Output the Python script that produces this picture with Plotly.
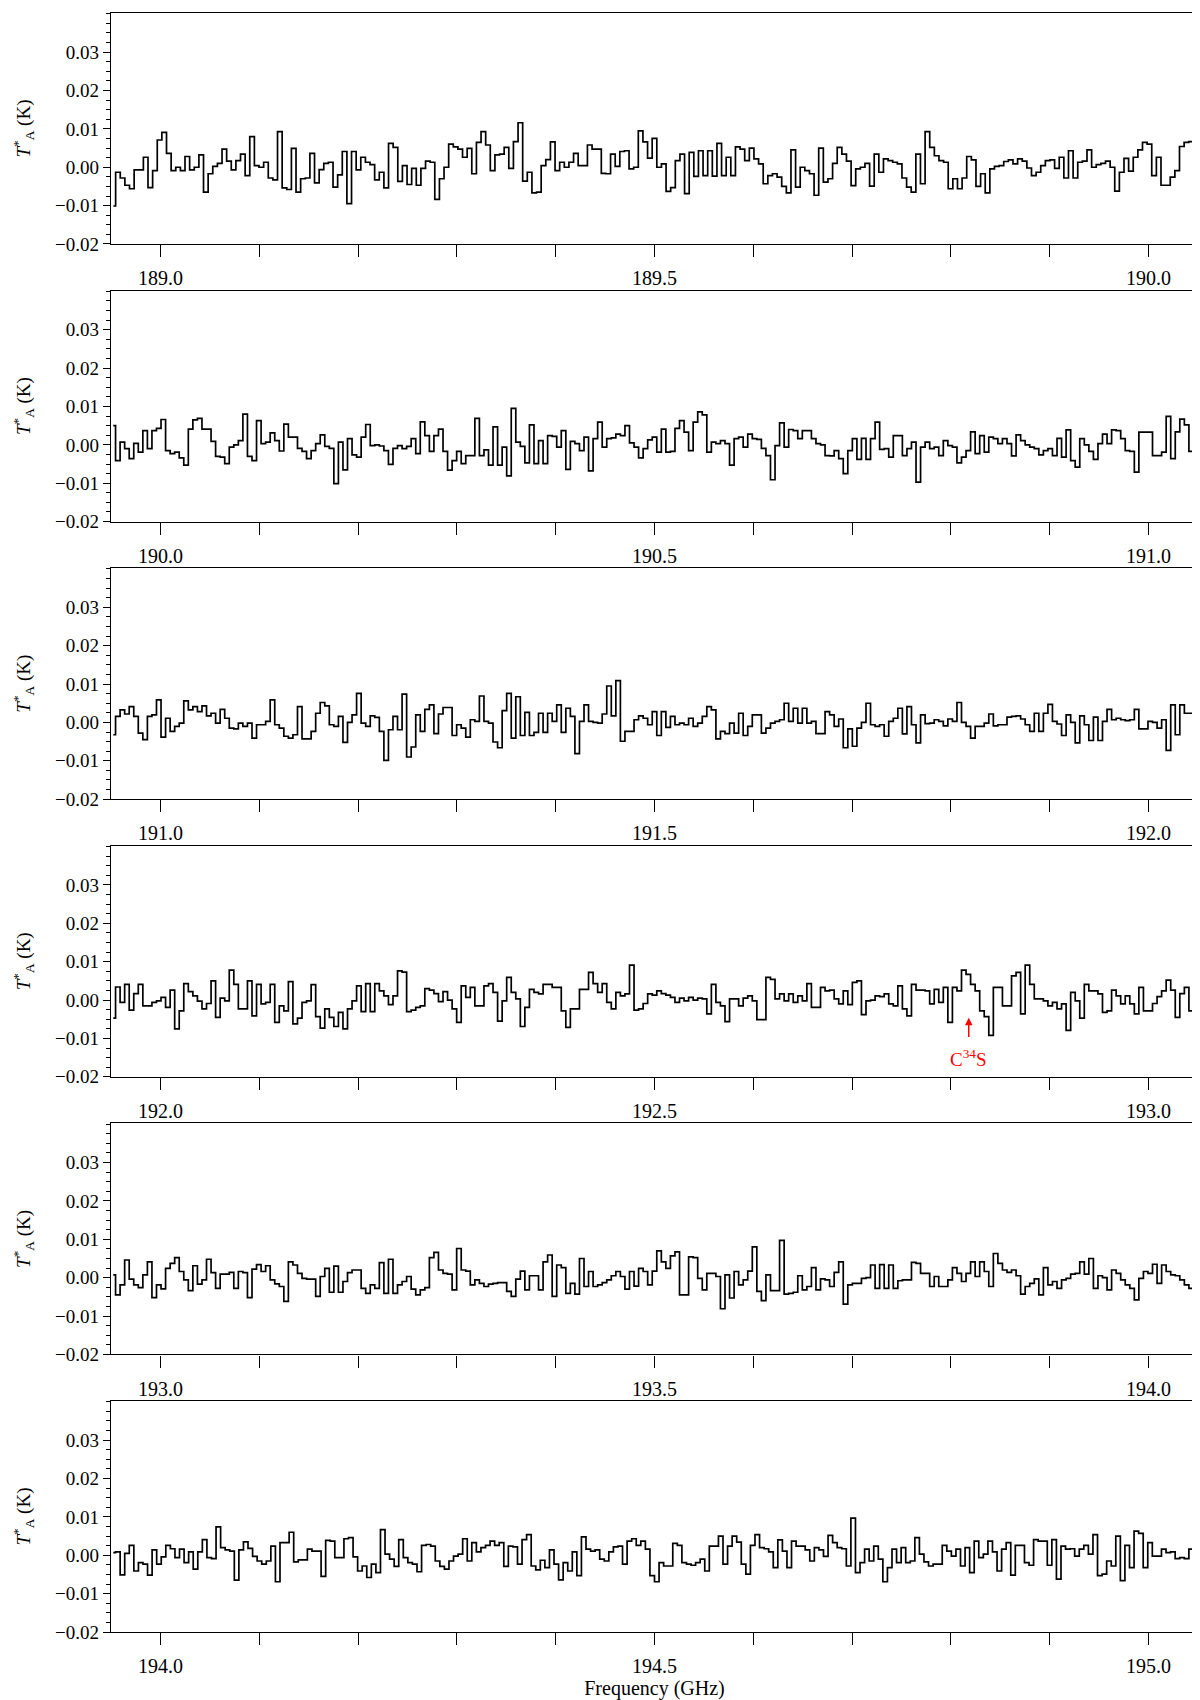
import numpy as np
import plotly.graph_objects as go
from plotly.subplots import make_subplots

# Antenna temperature per channel, in mK (left to right)
ta_p1 = [-10.1, -1.3, -2.8, -4.7, -5.6, -0.7, -0.7, 2.6, -5.3, -0.9, 7.1, 9.1, 3.6, -0.9, 0.0, -0.9, 2.8, -0.7, 0.0, 3.2,
         -6.5, -1.7, 0.2, 1.0, 4.7, 1.6, -0.7, 1.7, 3.4, -2.2, 8.0, 0.4, 0.0, 1.3, -2.8, -3.3, 9.3, -5.4, -5.8, 4.9,
         -6.5, -3.0, -2.8, 3.6, -4.1, -0.6, 1.0, 1.3, -5.2, -2.0, 4.1, -9.5, 4.1, -0.7, 2.6, 1.3, 0.7, -3.3, -1.3, -5.4,
         6.2, 5.2, -3.7, 0.4, -4.5, -0.3, -4.7, -0.3, 1.6, 1.3, -8.4, -3.0, 0.0, 6.0, 5.3, 4.7, 2.6, 4.9, -1.7, 6.5,
         9.3, 5.8, -0.9, 3.2, 3.4, 5.2, -0.3, 6.7, 11.6, -3.6, -1.3, -6.7, -6.5, 0.4, 2.0, 6.6, -0.9, 1.3, 0.0, 1.3,
         3.6, 0.4, 0.4, 5.8, 4.7, 4.7, -1.6, -1.7, 3.4, 0.2, 4.1, 4.3, -0.4, 0.0, 9.5, 6.6, 2.4,
         7.5, 0.0, 0.9, -6.3, -5.3, 1.7, 3.4, -6.9, 3.9, -2.4, 4.3, -2.2, 4.3, -2.3, 6.2, -2.2, 2.6, -2.2, 5.3, 4.7,
         1.7, 5.0, 2.2, 0.9, -4.3, -2.2, -1.7, -2.6, -5.0, -6.7, 4.5, -5.2, 0.0, -0.9, -1.7, -7.3, 5.0, -3.9, -3.0, 1.0,
         5.2, 3.4, 1.6, -4.8, -0.4, 0.0, 1.0, -4.9, 3.4, -1.3, 2.2, 1.7, 1.3, 0.9, -2.8, -5.2, -6.5, 3.4, -4.3, 9.3,
         5.2, 3.0, 1.7, 1.3, -5.6, -3.0, -5.6, -2.8, 2.8, 1.9, -5.0, -1.7, -6.7, -0.4, 0.2, 0.4, 1.5, 1.9, 0.9, 2.2,
         1.6, -0.2, -2.2, -1.3, 0.4, 1.7, 1.9, -0.3, 2.6, -2.8, 4.3, -2.8, 1.3, 1.6, 4.5, 0.0, 0.7, 1.0, 1.6, 0.0,
         -6.2, -1.3, 2.3, -1.0, 2.6, 4.5, 6.5, 6.0, -2.2, 2.6, -4.7, -4.7, -2.6, -0.9, 5.4, 6.5, 6.7, 6.9]

ta_p2 = [5.0, -4.1, 0.7, -1.0, -3.6, 0.4, -1.9, 3.7, -1.0, 3.7, 4.3, 6.6, -1.5, -2.3, -1.9, -3.4, -5.3, 4.1, 6.5, 6.9,
         4.1, 4.1, 0.9, -3.0, -3.2, -4.9, -0.6, 0.0, 1.1, 8.0, -3.0, -4.1, 6.3, 0.3, 0.7, 3.1, 1.1, -1.6, 5.4, 2.0,
         2.0, -0.9, -1.7, -3.6, -1.5, 0.3, 2.6, -0.4, -0.9, -10.1, 0.7, -6.5, 1.6, -2.6, -3.2, 2.0, 5.3, -0.2, 0.0, -0.3,
         -1.5, -5.1, -0.9, -0.2, -1.0, -0.4, 1.6, -2.3, 6.0, 2.4, -1.7, 2.4, 4.1, -1.7, -6.6, -4.1, -1.7, -4.9, -2.8, -2.8,
         6.9, -2.8, -1.3, -5.3, 4.7, -5.3, -0.6, -8.1, 9.5, 0.7, -0.4, -4.7, 5.2, -4.9, 1.1, -4.9, 2.4, 2.2, -0.6, 3.7,
         -6.4, 0.9, 0.3, -1.5, 2.0, -6.8, 1.6, 5.9, -0.6, 1.6, 1.8, 2.8, 2.4, 5.0, 0.5, -0.6, -3.4, -1.0, 1.3,
         2.0, -1.9, 4.1, -1.9, -1.7, 4.3, 6.3, 3.3, -1.5, 5.9, 8.6, 7.8, -1.9, 0.7, 0.3, 1.1, 0.3, -5.3, 1.6, 2.0,
         -0.6, 2.8, 1.6, 1.4, -0.9, -2.8, -9.1, -0.2, 5.7, -0.6, 4.0, 3.7, 1.6, 3.7, 3.7, 1.6, 0.3, 0.0, -2.8, -2.9,
         -1.5, -3.6, -7.5, -1.5, 1.6, -3.8, 1.7, -3.8, 1.6, 5.9, -1.2, -1.0, -3.2, 2.4, 2.4, -2.8, -1.0, 0.7, -9.7, -0.6,
         0.7, -1.0, -0.6, -2.8, 1.1, -0.2, -0.6, -4.7, -3.2, -1.5, 3.4, -2.3, 2.4, -1.9, 2.0, 1.6, 0.3, 1.6, 0.3, -2.9,
         2.6, 1.1, 0.0, -0.6, -1.0, -2.6, -1.5, -1.0, -2.8, 1.7, -3.2, 3.9, -4.1, -5.8, 1.6, 0.0, -1.7, -3.8, 0.3, 2.8,
         0.3, 3.9, 3.7, 1.6, -1.5, -1.7, -7.1, 3.3, 3.3, 3.3, -2.8, -2.8, -1.9, 7.4, -3.6, 3.4, 6.7, 5.2, -1.7, -1.7]

ta_p3 = [-3.2, 1.6, 3.3, 2.2, 4.1, 1.6, -2.8, -4.5, 1.6, 2.0, 5.9, -3.8, 1.1, -2.3, -1.0, -0.2, 5.6, 3.3, 4.1, 2.8,
         4.3, 1.7, 2.4, -0.2, 3.4, 1.1, -1.5, -1.7, -0.2, -1.0, -0.2, -4.1, -0.6, -0.6, 0.3, 5.9, -0.6, -1.5, -3.6, -4.1,
         -3.2, 4.1, -4.3, -4.3, -2.3, 2.4, 5.2, 4.3, -0.6, -1.0, 1.6, -5.2, 0.0, 2.0, 7.6, -0.2, -1.0, 1.7, 1.3, -2.3,
         -9.9, -1.9, 1.6, -1.9, 7.4, -9.0, -6.4, 2.0, -2.3, 3.4, 4.6, -2.9, 2.2, 3.9, 3.9, -3.4, -0.6, -1.5, -3.8, 0.7,
         0.3, 6.9, 0.3, -0.2, -5.1, -6.6, 3.1, 7.6, -4.1, 6.7, -3.4, 2.6, -3.4, -2.6, 2.4, -2.6, 2.4, 0.3, 4.6, -2.6,
         3.7, 1.6, -8.1, 0.3, 4.6, 0.3, 0.0, -0.2, 2.2, 9.5, 1.7, 10.9, -4.9, -2.3, -2.3, 0.7, 1.7, 1.1, -0.6,
         2.8, -3.4, 2.8, -1.3, 1.6, -0.6, -0.2, -0.6, 1.1, -1.0, -0.2, 1.6, 4.1, 3.3, -4.3, -2.3, -2.9, -0.2, -2.8, 2.4,
         -3.4, -1.0, 2.0, 2.0, -2.8, -1.5, -0.2, 0.3, 0.7, 5.0, 0.3, 3.7, -0.2, 3.7, -0.2, 0.3, -2.9, -2.9, 2.8, 2.0,
         -1.0, 0.9, -6.6, -1.7, -6.2, -1.5, 0.0, 5.0, -0.6, -1.0, -0.6, -3.6, 0.3, 1.1, 3.7, -3.0, 4.1, -0.6, -5.3, 2.0,
         -0.3, -0.2, 0.7, 0.3, -0.9, 0.9, 0.3, 5.2, 0.0, -1.0, -4.1, -1.0, -1.0, -0.2, 2.2, -0.9, -0.6, -0.6, 1.4, 1.6,
         1.7, 0.9, -0.6, -2.3, 2.4, -2.3, 2.4, 4.7, 0.3, -0.4, -3.4, 2.0, 0.0, -5.3, 1.7, -0.6, -4.7, 1.4, -4.7, 0.3,
         3.4, 0.7, 1.1, 0.7, 0.5, 0.7, 3.4, -1.7, -1.7, 0.3, 0.0, -1.5, 0.7, -7.3, 4.6, -3.2, 4.6, 2.4, 2.4, -1.2]

ta_p4 = [-4.7, 3.4, -0.6, 4.1, -2.6, 1.7, 4.1, -1.5, -1.5, -0.6, -0.2, 0.7, -1.9, 2.6, -7.5, -2.8, 4.3, 2.2, 1.1, -0.3,
         -2.3, -0.9, 5.0, -4.5, 0.5, -0.2, 7.8, 4.1, -2.3, -2.3, 5.0, -4.1, 4.1, -1.0, -0.6, 4.1, -5.8, -1.5, -2.8, 4.8,
         -6.2, -4.7, -0.6, -0.2, 4.0, -4.3, -7.3, -2.3, -4.5, -6.9, -3.2, -7.5, -2.3, -0.2, 3.7, -3.0, 4.3, -3.0, 4.3, 2.4,
         1.1, -1.2, 1.1, 7.6, 7.3, -3.0, -2.6, -1.9, -1.5, 3.0, 2.6, 1.7, -0.4, 2.2, 0.0, -2.3, -5.8, 3.7, 0.7, 3.3,
         -1.5, -1.5, 3.7, 4.3, 2.0, -5.5, -0.2, 5.9, 2.0, 0.3, -6.9, -1.9, 2.8, 2.0, 1.6, 4.1, 4.1, 3.3, 3.3, -2.8,
         -7.1, -2.3, -2.3, 2.8, 2.8, 7.2, 4.3, 2.0, 4.3, -0.6, -2.3, 2.0, 1.1, 1.6, 9.1, -2.6, -2.3, -0.9, 1.6,
         1.3, 2.4, 1.7, 1.3, 0.7, -0.6, 0.5, -0.2, 0.7, 0.0, 0.5, 0.3, -3.6, 4.1, -0.6, -1.5, -5.6, 0.3, 0.3, -1.5,
         0.5, 1.1, -0.2, -5.1, -5.1, 5.9, 5.4, 0.3, 1.6, -0.2, 1.6, -0.6, 1.1, -0.2, 4.3, -1.9, -1.9, 3.3, 2.4, 2.6,
         0.3, -1.0, 2.4, -1.2, 4.6, 5.0, -3.8, -0.2, 0.0, 1.1, 0.9, 1.6, -1.0, -1.5, 3.7, -2.3, -4.1, 4.1, 2.6, 2.6,
         2.4, -1.0, 2.8, -0.6, 3.3, -5.8, 3.3, 2.4, 7.8, 6.7, 4.1, 2.4, -2.8, -4.3, -9.2, 3.3, 3.3, -1.5, -1.5, 6.3,
         7.2, -3.6, 9.1, 4.1, 0.3, 0.3, -0.2, -1.5, -0.6, -2.3, -1.0, -7.9, 2.0, -0.2, -4.7, 4.1, 2.4, 2.4, 1.6, -3.2,
         -2.8, 2.6, 1.1, -1.0, 1.1, -1.0, -3.6, 3.3, -2.8, -2.8, -0.9, 0.9, 2.4, 5.2, 2.6, -4.5, 1.7, 3.3, -2.8, 0.5]

ta_p5 = [0.7, -4.5, -1.9, 4.6, -0.4, -1.9, -2.6, 0.7, 4.1, -5.2, -1.9, -2.9, 2.4, 3.7, 5.2, 1.6, -0.6, -3.4, 3.1, -1.7,
         -0.6, 4.8, 1.3, -2.8, 0.9, 0.9, 1.4, -2.8, 1.6, 1.3, -5.2, 2.2, 3.4, 1.6, 3.1, -0.6, -1.6, -2.3, -6.2, 4.1,
         3.3, 1.1, -0.2, -0.4, -0.4, -4.9, 0.3, 2.4, -3.8, 3.0, -3.8, -1.0, 1.3, 2.0, 2.0, -2.8, -4.1, -1.9, -2.8, 3.9,
         -4.1, 4.8, -4.1, -1.9, -1.0, 0.3, -3.0, -4.5, -3.2, -2.6, 5.2, 6.6, 2.0, 1.1, 0.9, -3.2, 7.6, 2.0, 1.7, -1.9,
         -0.6, -1.5, -2.3, -1.7, -1.5, -1.3, -1.3, -3.6, -4.9, -0.4, 1.7, -3.2, 0.5, 0.5, -3.2, 4.1, 5.9, -4.9, 3.3, 2.6,
         -4.1, -1.5, -4.3, 5.0, -2.3, 1.6, -2.3, -1.9, -1.3, -0.6, 0.5, 1.6, 0.3, -3.0, 1.6, -2.2, 2.4, 1.6, -1.9,
         1.7, 7.0, 4.1, 2.4, 5.7, 6.7, -4.5, -4.5, 5.4, 5.2, -0.2, -3.2, 1.1, 1.1, 0.3, -8.1, 0.7, -5.3, 1.6, -1.9,
         -0.6, 1.7, 8.0, -3.6, -6.0, 0.7, -3.4, -3.4, 9.7, -4.3, -4.1, -3.8, 0.5, -3.2, -2.3, 2.6, -3.2, -0.3, -0.6, -2.3,
         1.4, 4.1, -6.9, -1.9, -1.5, -1.5, -0.2, 0.0, 3.3, -2.8, 3.4, -2.8, 3.3, -2.8, -0.8, -0.6, -0.6, 4.0, 3.7, 1.1,
         1.1, -2.3, 0.3, -2.3, -2.3, -0.6, 2.6, 1.1, -1.0, 1.1, 4.1, 0.3, 4.1, 1.6, -2.3, 6.3, 3.7, 2.0, 1.4, 2.0,
         0.5, -4.3, -2.3, -1.5, -0.3, -4.5, 2.6, -1.9, -1.0, -2.8, -0.6, -0.2, 0.9, 1.1, 4.1, 0.9, 5.0, -2.8, 0.5, 0.0,
         -3.2, 2.0, 1.1, -0.6, -1.9, -2.8, -5.8, -0.2, 1.6, 1.1, 3.5, -1.5, 3.3, 1.6, 0.7, 0.5, -0.6, -1.9, -2.8, 3.7]

ta_p6 = [0.7, 0.9, -5.1, 0.5, 2.6, -4.1, -1.9, -2.3, -5.2, 1.4, -2.3, -0.4, 2.6, 1.7, -0.6, 1.6, -1.9, 0.9, -3.6, 0.9,
         4.1, -0.6, -0.9, 7.4, 2.0, 1.4, 1.1, -6.5, 1.4, 3.5, 1.8, -0.3, -1.5, -2.3, -1.5, 2.4, -6.9, 3.3, 3.3, 6.0,
         -1.7, -1.2, -1.2, 1.6, 1.1, 1.1, -5.5, 3.9, 3.7, -0.6, -0.6, 4.3, 4.6, -0.4, -4.1, -2.8, -5.8, -2.3, -4.5, 6.7,
         0.3, -1.0, -2.9, 4.1, -0.6, -1.9, -2.3, -4.3, 2.6, 2.8, 2.4, -1.5, -2.9, -3.6, -1.5, -0.2, 0.3, 4.3, -1.5, 3.3,
         0.9, 2.0, 2.6, 3.7, 2.6, 3.3, -2.9, 2.4, 2.2, -2.3, 4.1, 5.4, -2.8, -3.8, -1.3, -3.2, 1.4, -2.3, -6.4, -1.9,
         -4.1, 0.9, -5.3, 4.8, 1.6, 1.1, 1.4, -1.0, -1.5, 0.9, 2.2, 2.4, -2.3, 3.7, 4.3, 2.6, 3.7, 1.6, -5.3,
         -6.9, -1.9, -2.8, -2.8, 3.1, 2.6, -1.9, -2.3, -2.6, -1.9, -1.0, -4.1, 2.4, 2.4, 5.0, -2.3, 2.4, 5.0, 3.4, -2.3,
         -4.9, 2.6, 5.4, 2.0, 1.7, 0.9, -3.2, 4.0, 1.1, -3.2, 3.7, 2.4, 2.4, 1.4, -1.5, 2.0, 1.4, -0.3, 5.2, 3.3,
         2.0, 1.7, -2.8, 9.7, -4.5, -1.9, 1.6, -1.5, 2.4, -1.0, -6.9, -3.2, 1.6, -1.9, 2.0, -1.9, -1.5, 4.6, 0.3, -1.7,
         -2.8, -2.3, -2.3, 2.6, 1.1, -0.2, 1.6, -2.8, 2.0, -4.5, 3.7, -0.6, 0.3, 3.7, 0.9, -4.1, 1.6, 3.3, -5.2, 2.6,
         2.6, -1.9, -2.6, 4.1, 3.7, 3.7, -2.6, 4.1, -6.2, 2.4, 1.6, 1.7, -0.2, 1.6, 2.6, 0.3, 5.4, -5.3, -4.9, -1.5,
         -2.8, 5.0, -6.6, 2.6, -3.2, 6.3, 5.7, -3.2, 3.3, -0.2, -0.2, 1.6, 0.7, 0.9, -0.9, -0.6, -0.9, 1.6, 2.0]

PANEL_STARTS = [188.95, 189.95, 190.95, 191.95, 192.95, 193.95]  # GHz, left edge of each panel
PANEL_SPAN = 1.1  # GHz shown per panel
Y_TICKS = [-0.02, -0.01, 0.0, 0.01, 0.02, 0.03]

# line marker (panel 4)
LINE_FREQ = 192.818
LINE_LABEL = "C<sup>34</sup>S"
ARROW_TIP, ARROW_TAIL, LABEL_Y = -0.0046, -0.0100, -0.0150

FONT = "Liberation Serif"
panels = [ta_p1, ta_p2, ta_p3, ta_p4, ta_p5, ta_p6]

fig = make_subplots(rows=6, cols=1, vertical_spacing=0.0288)

for i, (start, vals) in enumerate(zip(PANEL_STARTS, panels), start=1):
    n = len(vals)
    chan = PANEL_SPAN / n
    freq = start + chan * (np.arange(n) + 0.5)
    fig.add_trace(go.Scatter(
        x=freq,
        y=np.array(vals) / 1000.0,
        mode='lines',
        line=dict(color='black', width=1.7, shape='hvh'),
        showlegend=False,
        hoverinfo='skip'
    ), row=i, col=1)

    fig.update_xaxes(
        range=[start, start + PANEL_SPAN],
        tick0=0, dtick=0.5, tickformat='.1f',
        ticks='outside', ticklen=12, tickwidth=1.2, tickcolor='black',
        ticklabelstandoff=4,
        minor=dict(tick0=0, dtick=0.1, ticks='outside', ticklen=12, tickwidth=1.2, tickcolor='black'),
        showline=True, linecolor='black', linewidth=1.3, mirror=True,
        showgrid=False, zeroline=False, automargin=False,
        tickfont=dict(family=FONT, size=20, color='black'),
        row=i, col=1
    )
    fig.update_yaxes(
        range=[-0.02, 0.0402],
        tickmode='array', tickvals=Y_TICKS, tickformat='.2f',
        ticks='outside', ticklen=7, tickwidth=1.2, tickcolor='black',
        minor=dict(tickmode='linear', tick0=0, dtick=0.0025, ticks='outside', ticklen=4,
                   tickwidth=1, tickcolor='black'),
        showline=True, linecolor='black', linewidth=1.3, mirror=True,
        showgrid=False, zeroline=False, automargin=False,
        tickfont=dict(family=FONT, size=19, color='black'),
        title=dict(text='<i>T</i><sup>*</sup><sub>A</sub> (K)', standoff=19,
                   font=dict(family=FONT, size=19, color='black')),
        row=i, col=1
    )

fig.update_xaxes(
    title=dict(text='Frequency (GHz)', standoff=2, font=dict(family=FONT, size=20, color='black')),
    row=6, col=1
)

# C34S marker
fig.add_annotation(
    x=LINE_FREQ, y=ARROW_TIP, ax=LINE_FREQ, ay=ARROW_TAIL,
    xref='x4', yref='y4', axref='x4', ayref='y4',
    text='', showarrow=True, arrowhead=2, arrowsize=1, arrowwidth=1.5, arrowcolor='red'
)
fig.add_annotation(
    x=LINE_FREQ, y=LABEL_Y, xref='x4', yref='y4',
    text=LINE_LABEL, showarrow=False,
    font=dict(family=FONT, size=19, color='red')
)

fig.update_layout(
    width=1200, height=1700,
    margin=dict(l=103, r=10, t=5, b=76),
    plot_bgcolor='white', paper_bgcolor='white',
    font=dict(family=FONT, size=19, color='black')
)

fig.write_html("out.html")
